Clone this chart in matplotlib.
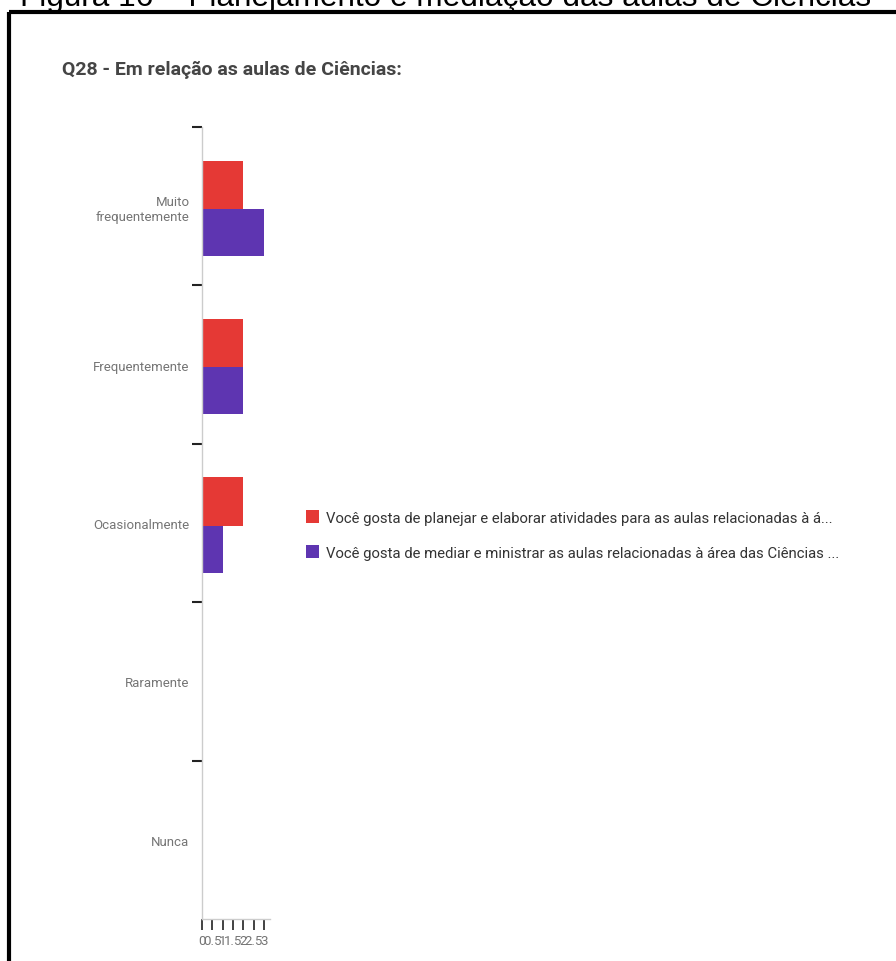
import numpy as np
import matplotlib
matplotlib.use("Agg")
import matplotlib.pyplot as plt
from matplotlib.lines import Line2D

# dados
categorias = ["Muito\nfrequentemente", "Frequentemente", "Ocasionalmente", "Raramente", "Nunca"]
planejar = [2, 2, 2, 0, 0]
mediar = [3, 2, 1, 0, 0]
series = [
    "Você gosta de planejar e elaborar atividades para as aulas relacionadas à á...",
    "Você gosta de mediar e ministrar as aulas relacionadas à área das Ciências ...",
]
xticks = [0, 0.5, 1, 1.5, 2, 2.5, 3]
xticklabels = ["0", "0.5", "1", "1.5", "2", "2.5", "3"]

FONTE = ["Roboto", "DejaVu Sans"]
VERMELHO = "#e53935"
ROXO = "#5e35b1"
W, H = 896, 962

fig = plt.figure(figsize=(W / 100, H / 100), dpi=100)
fig.patch.set_facecolor("white")

def fx(px): return px / W
def fy(py): return 1 - py / H

# legenda da figura (cortada no topo) e moldura
fig.text(fx(20), fy(6), "Figura 16 – Planejamento e mediação das aulas de Ciências",
         family="Liberation Sans", fontsize=22.7, color="black", va="baseline", ha="left")
fig.add_artist(Line2D([fx(9), fx(900)], [fy(13), fy(13)], color="black", lw=3, solid_capstyle="butt"))
fig.add_artist(Line2D([fx(9), fx(9)], [fy(13), fy(970)], color="black", lw=3, solid_capstyle="butt"))

fig.text(fx(62), fy(70), "Q28 - Em relação as aulas de Ciências:", family=FONTE,
         fontsize=14, fontweight="bold", color="#454545", va="center", ha="left")

# eixo: x 202..270 px, y 128..920 px
ax = fig.add_axes([fx(202), fy(920), fx(270) - fx(202), (920 - 128) / H])
y = np.arange(len(categorias))
ax.barh(y - 0.135, planejar, height=0.305, color=VERMELHO, label=series[0])
ax.barh(y + 0.165, mediar, height=0.295, color=ROXO, label=series[1])

ax.set_xlim(0, 3.3)
ax.set_ylim(len(categorias) - 0.5, -0.5)
ax.set_yticks(y)
ax.set_yticklabels(categorias, family=FONTE, fontsize=9.5, color="#757575")
ax.set_yticks(np.arange(len(categorias)) - 0.5, minor=True)
ax.tick_params(axis="y", which="major", length=0, pad=9)
ax.tick_params(axis="y", which="minor", length=7, width=1.5, color="#222222", direction="out")
ax.set_xticks(xticks)
ax.set_xticklabels(xticklabels, family=FONTE, fontsize=9.5, color="#757575")
ax.tick_params(axis="x", length=8, width=1.2, color="#222222", pad=3)

for s in ["top", "right"]:
    ax.spines[s].set_visible(False)
for s in ["left", "bottom"]:
    ax.spines[s].set_color("#cccccc")
    ax.spines[s].set_linewidth(1)

leg = fig.legend(loc="center left", bbox_to_anchor=(fx(306), fy(536)), frameon=False,
                 prop={"family": FONTE, "size": 10.7}, handlelength=0.9, handleheight=0.9,
                 handletextpad=0.45, labelspacing=1.4, borderpad=0, borderaxespad=0,
                 labelcolor="#333333")

fig.savefig("out.png", dpi=100)
